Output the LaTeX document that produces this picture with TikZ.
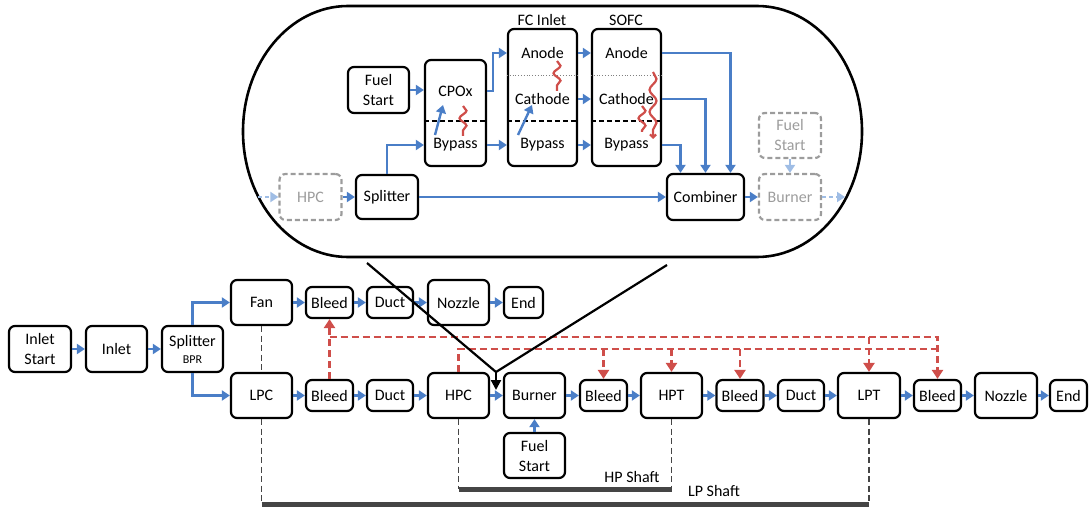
\documentclass[tikz,border=0pt]{standalone}
\usepackage{fontspec}
\setmainfont{Carlito}
\usetikzlibrary{arrows.meta,decorations.pathmorphing,calc}

\definecolor{flowblue}{HTML}{4A7EC7}
\definecolor{bleedred}{HTML}{CF4E4A}
\definecolor{ghostgray}{HTML}{9C9C9C}
\definecolor{ghostblue}{HTML}{9FBDE5}
\definecolor{shaftgray}{HTML}{454545}

\begin{document}
\begin{tikzpicture}[x=1pt,y=-1pt,
  font=\fontsize{16}{20}\selectfont,
  blk/.style={draw,line width=2.2pt,rounded corners=6pt,align=center,inner sep=0pt},
  bigbox/.style={blk,minimum width=61pt,minimum height=45pt},
  smallbox/.style={blk,minimum width=47pt,minimum height=31pt},
  ghostbox/.style={draw=ghostgray,dash pattern=on 5pt off 3pt,line width=2.2pt,rounded corners=6pt,
    align=center,inner sep=0pt,text=ghostgray,minimum width=62pt,minimum height=46pt},
  lbl/.style={inner sep=0pt},
  flow/.style={draw=flowblue,line width=2.4pt,-{Triangle[width=10pt,length=8pt]}},
  ghostflow/.style={draw=ghostblue,line width=2.4pt,-{Triangle[width=10pt,length=8pt]}},
  bleedline/.style={draw=bleedred,line width=2.4pt,dash pattern=on 7pt off 4pt},
  bleedarrow/.style={bleedline,-{Triangle[width=11pt,length=9pt]}},
  shaftlink/.style={draw=shaftgray,line width=1.9pt,dash pattern=on 6pt off 3.5pt},
  shaft/.style={draw=shaftgray,line width=5pt},
  heat/.style={draw=bleedred,line width=2.2pt,decorate,
    decoration={snake,amplitude=3.5pt,segment length=15pt}},
  zoomline/.style={draw=black,line width=2.2pt},
  divider/.style={line width=2pt,dash pattern=on 5pt off 3pt},
]
\useasboundingbox (0,0) rectangle (1089,508);

% ---------- detail view of the SOFC hybrid section ----------
\draw[line width=2.6pt] (348,6) -- (757,6)
  arc[start angle=90,end angle=-90,x radius=105pt,y radius=125.5pt]
  -- (348,257)
  arc[start angle=270,end angle=90,x radius=105pt,y radius=125.5pt] -- cycle;

\node[blk,minimum width=61pt,minimum height=46pt] (ofuel) at (378.5,90) {Fuel\\Start};
\node[blk,minimum width=61pt,minimum height=106pt] (cpox) at (455.5,113) {};
\node[blk,minimum width=69pt,minimum height=137pt] (fcbox) at (542.5,97.5) {};
\node[blk,minimum width=69pt,minimum height=137pt] (sofcbox) at (626.5,97.5) {};
\node[ghostbox] (ohpc) at (310.5,197) {HPC};
\node[blk,minimum width=62pt,minimum height=44pt] (osplit) at (387,197) {Splitter};
\node[blk,minimum width=77pt,minimum height=46pt] (comb) at (705.5,197) {Combiner};
\node[ghostbox] (oburn) at (790,197) {Burner};
\node[ghostbox,minimum height=45pt] (ofuel2) at (790,135.5) {Fuel\\Start};

\node[lbl] (fclabel) at (542,20) {FC Inlet};
\node[lbl] (sofclabel) at (626,20) {SOFC};

\node[lbl] (cpoxT) at (455.5,91) {CPOx};
\node[lbl] (cpoxB) at (455.5,145) {Bypass};
\node[lbl] (fcA) at (542.5,53) {Anode};
\node[lbl] (fcC) at (542.5,99) {Cathode};
\node[lbl] (fcB) at (542.5,145) {Bypass};
\node[lbl] (sofcA) at (626.5,53) {Anode};
\node[lbl] (sofcC) at (626.5,99) {Cathode};
\node[lbl] (sofcB) at (626.5,145) {Bypass};

% stream dividers inside the reactor blocks
\draw[divider] (cpox.west |- 0,121) -- (cpox.east |- 0,121);
\draw[divider] (fcbox.west |- 0,121) -- (fcbox.east |- 0,121);
\draw[divider] (sofcbox.west |- 0,121) -- (sofcbox.east |- 0,121);
\draw[gray,line width=0.8pt,dotted] (fcbox.west |- 0,75) -- (fcbox.east |- 0,75);
\draw[gray,line width=0.8pt,dotted] (sofcbox.west |- 0,75) -- (sofcbox.east |- 0,75);

% flows in the detail view
\coordinate (inHPC) at (258,197);
\coordinate (outBurn) at (845,197);
\draw[ghostflow,dash pattern=on 4pt off 3pt] (inHPC) -- (ohpc.west);
\draw[flow] (ohpc.east) -- (osplit.west);
\draw[flow] (ofuel.east) -- (cpox.west |- ofuel);
\draw[flow] (cpox.east |- cpoxT) -- ++(6,0) |- (fcbox.west |- fcA);
\draw[flow] (osplit.north) |- (cpox.west |- cpoxB);
\draw[flow] (cpox.east |- cpoxB) -- (fcbox.west |- fcB);
\draw[flow] (fcbox.east |- fcA) -- (sofcbox.west |- sofcA);
\draw[flow] (fcbox.east |- fcC) -- (sofcbox.west |- sofcC);
\draw[flow] (fcbox.east |- fcB) -- (sofcbox.west |- sofcB);
\draw[flow] (sofcbox.east |- sofcA) -| ([xshift=25pt]comb.north);
\draw[flow] (sofcbox.east |- sofcC) -| (comb.north);
\draw[flow] (sofcbox.east |- sofcB) -| ([xshift=-25pt]comb.north);
\draw[flow] (osplit.east) -- (comb.west);
\draw[flow] (comb.east) -- (oburn.west);
\draw[ghostflow] (ofuel2.south) -- (oburn.north);
\draw[ghostflow,dash pattern=on 4pt off 3pt] (oburn.east) -- (outBurn);

% bypass air mixed into reacting streams
\draw[flow] (435,135) -- (443,105);
\draw[flow] (518,135) -- (532,105);

% heat exchange between streams
\draw[heat] (463,106) -- (463,136);
\draw[heat] (557,61) -- (557,91);
\draw[heat] (642,106) -- (642,132);
\draw[heat,decoration={snake,amplitude=3.5pt,segment length=22pt,post length=4pt},
  -{Straight Barb[length=3pt,width=6pt]}] (653,72) -- (653,139);

% ---------- engine flow path ----------
\node[blk,minimum width=62pt,minimum height=46pt] (inst) at (40,349) {Inlet\\Start};
\node[blk,minimum width=61pt,minimum height=46pt] (inlet) at (116.5,349) {Inlet};
\node[blk,minimum width=61pt,minimum height=46pt] (spl) at (192.5,349)
  {Splitter\\[-3pt]{\fontsize{12}{14}\selectfont BPR}};
\node[bigbox] (fan) at (261.5,302.5) {Fan};
\node[bigbox] (lpc) at (261.5,395.5) {LPC};
\node[smallbox] (fbleed) at (329.5,302.5) {Bleed};
\node[smallbox,minimum width=46pt] (fduct) at (390,302.5) {Duct};
\node[bigbox] (fnoz) at (458.5,302.5) {Nozzle};
\node[smallbox,minimum width=39pt] (fend) at (523.5,302.5) {End};

\node[smallbox] (lbleed) at (329.5,395.5) {Bleed};
\node[smallbox,minimum width=46pt] (lduct) at (390,395.5) {Duct};
\node[bigbox] (hpc) at (458.5,395.5) {HPC};
\node[bigbox] (burner) at (534.5,395.5) {Burner};
\node[smallbox] (bleedA) at (603.5,395.5) {Bleed};
\node[bigbox] (hpt) at (671.5,395.5) {HPT};
\node[smallbox] (bleedB) at (740,395.5) {Bleed};
\node[smallbox,minimum width=46pt] (duct2) at (801,395.5) {Duct};
\node[bigbox,minimum width=62pt] (lpt) at (869,395.5) {LPT};
\node[smallbox] (bleedC) at (937.5,395.5) {Bleed};
\node[bigbox,minimum width=62pt] (noz) at (1006,395.5) {Nozzle};
\node[smallbox,minimum width=37pt] (endn) at (1068.5,395.5) {End};
\node[bigbox] (fuel) at (534.5,455.5) {Fuel\\Start};

\draw[flow] (inst) -- (inlet);
\draw[flow] (inlet) -- (spl);
\draw[flow] (spl.north) |- (fan.west);
\draw[flow] (spl.south) |- (lpc.west);
\draw[flow] (fan) -- (fbleed);
\draw[flow] (fbleed) -- (fduct);
\draw[flow] (fduct) -- (fnoz);
\draw[flow] (fnoz) -- (fend);
\draw[flow] (lpc) -- (lbleed);
\draw[flow] (lbleed) -- (lduct);
\draw[flow] (lduct) -- (hpc);
\draw[flow] (hpc) -- (burner);
\draw[flow] (burner) -- (bleedA);
\draw[flow] (bleedA) -- (hpt);
\draw[flow] (hpt) -- (bleedB);
\draw[flow] (bleedB) -- (duct2);
\draw[flow] (duct2) -- (lpt);
\draw[flow] (lpt) -- (bleedC);
\draw[flow] (bleedC) -- (noz);
\draw[flow] (noz) -- (endn);
\draw[flow] (fuel) -- (burner);

% cooling / bleed air
\coordinate (upY) at (0,337);
\coordinate (loY) at (0,349);
\draw[bleedarrow] (lbleed.north) -- (fbleed.south);
\draw[bleedarrow] (lbleed.north |- upY) -- (bleedC.north |- upY) -- (bleedC.north);
\draw[bleedarrow] (lpt.north |- upY) -- (lpt.north);
\draw[bleedline] (hpc.north) -- (hpc.north |- loY) -- (bleedC.north |- loY);
\draw[bleedarrow] (bleedA.north |- loY) -- (bleedA.north);
\draw[bleedarrow] (hpt.north |- loY) -- (hpt.north);
\draw[bleedarrow] (bleedB.north |- loY) -- (bleedB.north);

% shafts
\coordinate (hpL) at (458.5,489);
\coordinate (hpR) at (671.5,489);
\coordinate (lpL) at (261.5,504);
\coordinate (lpR) at (869,504);
\draw[shaftlink] (fan.south) -- (lpc.north);
\draw[shaftlink] (lpc.south) -- (lpL);
\draw[shaftlink] (lpt.south) -- (lpR);
\draw[shaftlink] (hpc.south) -- (hpL);
\draw[shaftlink] (hpt.south) -- (hpR);
\draw[shaft] (hpL) -- (hpR);
\draw[shaft] (lpL) -- (lpR);
\node[lbl] (hplabel) at (632,477) {HP Shaft};
\node[lbl] (lplabel) at (714,491) {LP Shaft};

% detail callout pointing at the combustor inlet
\coordinate (zoomL) at (367,263);
\coordinate (zoomR) at (667,265);
\coordinate (zoomJ) at (496,372);
\draw[zoomline] (zoomL) -- (zoomJ) -- (zoomR);
\draw[zoomline,-{Triangle[width=10pt,length=10pt]}] (zoomJ) -- (496,390);
\end{tikzpicture}
\end{document}
